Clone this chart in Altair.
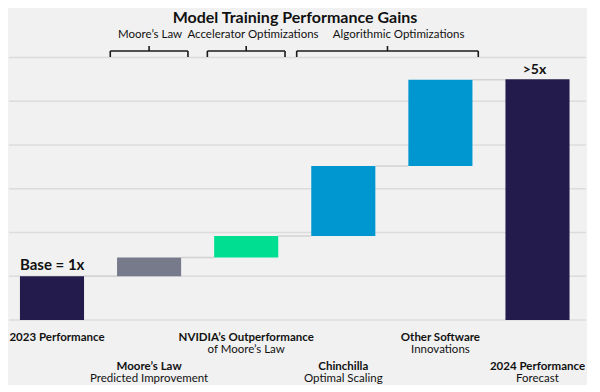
import altair as alt
import pandas as pd

# ---- data ----
categories = ["2023 Performance", "Moore’s Law", "NVIDIA’s Outperformance",
              "Chinchilla", "Other Software", "2024 Performance"]
sublabels = ["", "Predicted Improvement", "of Moore’s Law",
             "Optimal Scaling", "Innovations", "Forecast"]
bar_start = [0.0, 1.0, 1.43, 1.92, 3.52, 0.0]
bar_end = [1.0, 1.43, 1.92, 3.52, 5.49, 5.5]
bar_colors = ["#221b4b", "#767a8b", "#00df91", "#0097d0", "#0097d0", "#221b4b"]
label_row = [1, 2, 1, 2, 1, 2]

bracket_names = ["Moore’s Law", "Accelerator Optimizations", "Algorithmic Optimizations"]
bracket_left = [0.6, 1.6, 2.52]
bracket_right = [1.4, 2.4, 4.39]
bracket_label_x = [1.01, 2.07, 3.57]

grid_values = [0, 1, 2, 3, 4, 5, 6]

FONT = "Lato"
BG = "#f1f1f1"
INK = "#111111"

idx = list(range(len(categories)))
bars = pd.DataFrame({
    "i": idx, "cat": categories, "sub": sublabels,
    "x0": [i - 0.33 for i in idx], "x1": [i + 0.33 for i in idx],
    "y0": bar_start, "y1": bar_end, "color": bar_colors, "row": label_row,
})
conn = pd.DataFrame({
    "x0": [i + 0.33 for i in idx[:-1]],
    "x1": [i + 1 - 0.33 for i in idx[:-1]],
    "y": bar_end[:-1],
})
grid = pd.DataFrame({"g": grid_values, "gl": [-0.4428] * 7, "gr": [5.4995] * 7})
br = pd.DataFrame({
    "name": bracket_names, "l": bracket_left, "r": bracket_right,
    "mid": [(a + b) / 2 for a, b in zip(bracket_left, bracket_right)],
    "lx": bracket_label_x,
})
br_ends = pd.DataFrame({"bx": bracket_left + bracket_right})

xscale = alt.Scale(domain=[-0.4428, 5.4995], nice=False, zero=False)
yscale = alt.Scale(domain=[0, 7.131], nice=False, zero=True)


def X(f):
    return alt.X(f, scale=xscale, axis=None)


def Y(f):
    return alt.Y(f, scale=yscale, axis=None)


grid_layer = alt.Chart(grid).mark_rule(color="#dcdcdc", strokeWidth=1.3).encode(
    x=X("gl:Q"), x2="gr:Q", y=Y("g:Q"))

bar_layer = alt.Chart(bars).mark_rect().encode(
    x=X("x0:Q"), x2="x1:Q", y=Y("y0:Q"), y2="y1:Q",
    color=alt.Color("color:N", scale=None, legend=None),
)

conn_layer = alt.Chart(conn).mark_rule(color="#d2d2d2", strokeWidth=1.5).encode(
    x=X("x0:Q"), x2="x1:Q", y=Y("y:Q"))

first = bars[bars["i"] == 0]
row1 = bars[(bars["row"] == 1) & (bars["i"] != 0)]
row2 = bars[bars["row"] == 2]


def label(df, field, ypix, bold, dx=0):
    kw = dict(font=FONT, fontSize=11.5, color=INK, baseline="middle", align="center", dx=dx)
    if bold:
        kw["fontWeight"] = "bold"
    return alt.Chart(df).mark_text(**kw).encode(
        x=X("i:Q"), y=alt.value(ypix), text=alt.Text(field + ":N"))


lab0_bold = label(first, "cat", 330, True, dx=5)
lab1_bold = label(row1, "cat", 330, True)
lab1_sub = label(row1, "sub", 342, False)
lab2_bold = label(row2, "cat", 359, True)
lab2_sub = label(row2, "sub", 371, False)

base_lab = alt.Chart(first).mark_text(
    font=FONT, fontSize=15, fontWeight="bold", color=INK,
    align="left", baseline="middle", dy=-11, text="Base = 1x").encode(
    x=X("x0:Q"), y=Y("y1:Q"))
final_lab = alt.Chart(bars[bars["i"] == 5]).mark_text(
    font=FONT, fontSize=14, fontWeight="bold", color=INK,
    align="center", baseline="middle", dy=-9, dx=-3, text=">5x").encode(
    x=X("i:Q"), y=Y("y1:Q"))

title_layer = alt.Chart(pd.DataFrame({"t": ["Model Training Performance Gains"]})).mark_text(
    font=FONT, fontSize=16, fontWeight="bold", color=INK,
    align="center", baseline="middle").encode(
    x=alt.value(286), y=alt.value(9.5), text="t:N")

br_h = alt.Chart(br).mark_rule(color="#1a1a1a", strokeWidth=1.6).encode(
    x=X("l:Q"), x2="r:Q", y=alt.value(43))
br_mid = alt.Chart(br).mark_rule(color="#1a1a1a", strokeWidth=1.6).encode(
    x=X("mid:Q"), y=alt.value(38), y2=alt.value(43))
br_end = alt.Chart(br_ends).mark_rule(color="#1a1a1a", strokeWidth=1.6).encode(
    x=X("bx:Q"), y=alt.value(43), y2=alt.value(49))
br_lab = alt.Chart(br).mark_text(font=FONT, fontSize=11.5, color=INK,
                                 baseline="middle", align="center").encode(
    x=X("lx:Q"), y=alt.value(26.5), text="name:N")

chart = alt.layer(
    grid_layer, conn_layer, bar_layer, lab0_bold, lab1_bold, lab1_sub, lab2_bold,
    lab2_sub, base_lab, final_lab, title_layer, br_h, br_mid, br_end, br_lab
).properties(
    width=577, height=312, padding=0,
).configure(background=BG).configure_view(strokeWidth=0, fill=BG)

chart.save("out.html", embed_options={"renderer": "svg", "actions": False})
